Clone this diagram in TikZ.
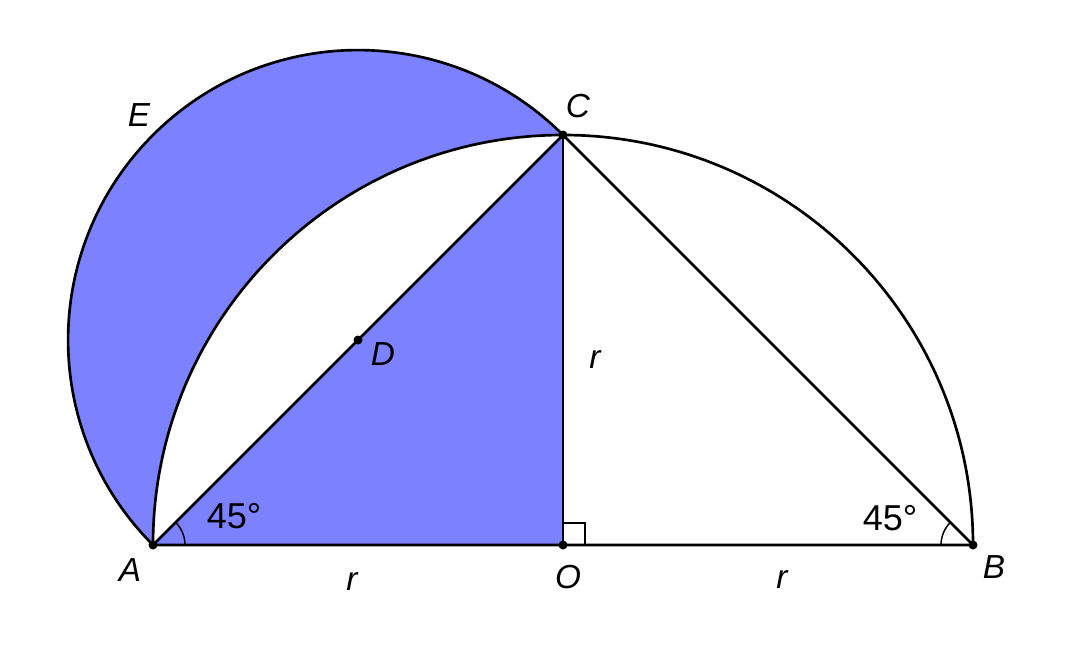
\documentclass[tikz,border=0pt]{standalone}
\usepackage{fontspec}
\setmainfont{Liberation Sans}
\usepackage{tikz}
\usetikzlibrary{calc}

\definecolor{lunefill}{RGB}{124,129,255}

\begin{document}
\begin{tikzpicture}[x=0.75pt,y=0.75pt,yscale=-1,xscale=1]
        \useasboundingbox (0,0) rectangle (1080,660);

        % Points
        \coordinate (A) at (153,545);
        \coordinate (O) at (563,545);
        \coordinate (B) at (973,545);
        \coordinate (C) at (563,135);
        \coordinate (D) at (358,340);

        % Shaded lune and triangle AOC
        \fill [lunefill] (C) arc [start angle=315, end angle=135, radius=289.91] arc [start angle=180, end angle=270, radius=410] -- cycle ;
        \fill [lunefill] (A) -- (O) -- (C) -- cycle ;

        % Semicircle on AB
        \draw [line width=2] (A) arc [start angle=180, end angle=360, radius=410] ;
        % Semicircle on AC
        \draw [line width=2] (C) arc [start angle=315, end angle=135, radius=289.91] ;
        % Triangle and radius
        \draw [line width=2] (A) -- (B) -- (C) -- cycle ;
        \draw [line width=2] (O) -- (C) ;

        % Angle marks
        \draw [line width=1.1] ($(A)+(32,0)$) arc [start angle=0, end angle=-45, radius=32] ;
        \draw [line width=1.1] ($(B)+(-32,0)$) arc [start angle=180, end angle=225, radius=32] ;
        \draw [line width=1.1] ($(O)+(0,-22)$) -- ($(O)+(22,-22)$) -- ($(O)+(22,0)$) ;

        % Points
        \foreach \p in {A,O,B,C,D} \fill (\p) circle [radius=4.5] ;

        % Text Node
        \draw (130,570) node (lA) [inner sep=0.75pt] [font=\fontsize{25}{29}\selectfont\itshape] {A};
        \draw (568,577) node (lO) [inner sep=0.75pt] [font=\fontsize{25}{29}\selectfont\itshape] {O};
        \draw (994,567) node (lB) [inner sep=0.75pt] [font=\fontsize{25}{29}\selectfont\itshape] {B};
        \draw (578,106) node (lC) [inner sep=0.75pt] [font=\fontsize{25}{29}\selectfont\itshape] {C};
        \draw (139,115) node (lE) [inner sep=0.75pt] [font=\fontsize{25}{29}\selectfont\itshape] {E};
        \draw (383,354) node (lD) [inner sep=0.75pt] [font=\fontsize{25}{29}\selectfont\itshape] {D};
        \draw (352,582) node (lr1) [inner sep=0.75pt] [font=\fontsize{25}{29}\selectfont\itshape] {r};
        \draw (782,580) node (lr2) [inner sep=0.75pt] [font=\fontsize{25}{29}\selectfont\itshape] {r};
        \draw (595,360) node (lr3) [inner sep=0.75pt] [font=\fontsize{25}{29}\selectfont\itshape] {r};
        \draw (234,516) node (la1) [inner sep=0.75pt] [font=\fontsize{27}{31}\selectfont] {45°};
        \draw (890,518) node (la2) [inner sep=0.75pt] [font=\fontsize{27}{31}\selectfont] {45°};

    \end{tikzpicture}
\end{document}
